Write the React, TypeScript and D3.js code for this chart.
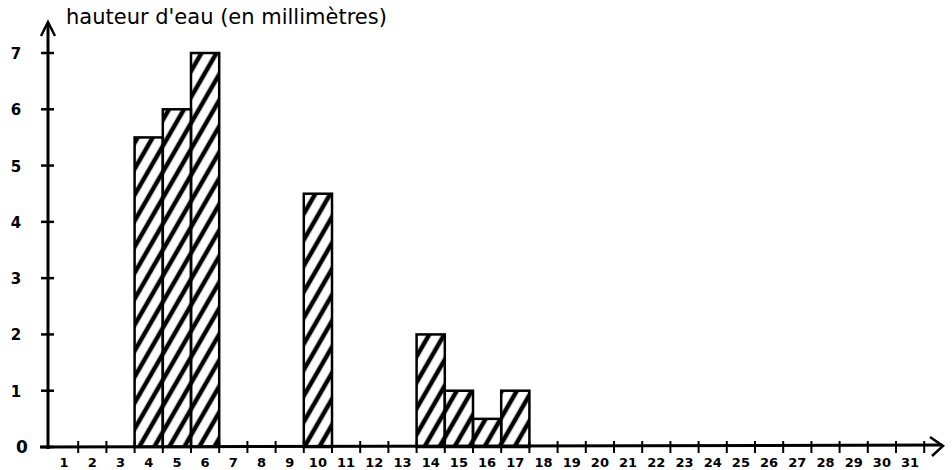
import React from "react"
import * as d3 from "d3"

const days = d3.range(1, 32)
const rainDays = [4, 5, 6, 10, 14, 15, 16, 17]
const rainValues = [5.5, 6, 7, 4.5, 2, 1, 0.5, 1]
const yTicks = [0, 1, 2, 3, 4, 5, 6, 7]
const title = "hauteur d'eau  (en millimètres)"

const App = () => {
  const width = 952
  const height = 470
  const x0 = 48
  const y0 = 447
  const font = "'DejaVu Sans', sans-serif"

  const xScale = d3
    .scaleBand<number>()
    .domain(days)
    .range([x0 + 2, x0 + 2 + 31 * 28.2])
    .padding(0)
  const yScale = d3.scaleLinear().domain([0, 7]).range([y0, 53])

  const bars = rainDays.map((d, i) => ({ day: d, value: rainValues[i] }))

  return (
    <svg width={width} height={height} style={{ position: "absolute", left: 0, top: 0, background: "#fff" }}>
      <defs>
        <pattern id="hatch" patternUnits="userSpaceOnUse" width={13} height={13} patternTransform="rotate(30)">
          <line x1={6} y1={0} x2={6} y2={13} stroke="#000" strokeWidth={4.5} />
        </pattern>
      </defs>
      <text x={66} y={24} fontFamily={font} fontSize={21} fill="#000">
        {title}
      </text>
      {bars.map((b) => (
        <rect
          key={b.day}
          x={xScale(b.day)}
          y={yScale(b.value)}
          width={xScale.bandwidth()}
          height={y0 - yScale(b.value)}
          fill="url(#hatch)"
          stroke="#000"
          strokeWidth={2.5}
        />
      ))}
      {/* y axis */}
      <line x1={x0} y1={y0 + 2} x2={x0} y2={24} stroke="#000" strokeWidth={3} />
      <path d={d3.line()([[x0 - 7, 36], [x0, 22], [x0 + 7, 36]]) || ""} fill="none" stroke="#000" strokeWidth={2.5} />
      {yTicks.map((t) => (
        <g key={t}>
          <line x1={x0 - 7} x2={x0 + 6} y1={yScale(t)} y2={yScale(t)} stroke="#000" strokeWidth={2.5} />
          <text
            x={t === 0 ? 22 : 16}
            y={yScale(t) + 6}
            textAnchor="middle"
            fontFamily={font}
            fontWeight="bold"
            fontSize={t === 0 ? 17 : 15}
            fill="#000"
          >
            {t}
          </text>
        </g>
      ))}
      {/* x axis */}
      <line x1={x0 - 8} y1={y0} x2={942} y2={y0 - 2} stroke="#000" strokeWidth={3} />
      <path d={d3.line()([[930, 437], [943, 446], [932, 456]]) || ""} fill="none" stroke="#000" strokeWidth={2.5} />
      {days.map((d) => (
        <g key={d}>
          <line
            x1={(xScale(d) as number) + xScale.bandwidth()}
            x2={(xScale(d) as number) + xScale.bandwidth()}
            y1={y0 - 6}
            y2={y0 + 6}
            stroke="#000"
            strokeWidth={2}
          />
          <text
            x={(xScale(d) as number) + xScale.bandwidth() / 2}
            y={y0 + 20}
            textAnchor="middle"
            fontFamily={font}
            fontWeight="bold"
            fontSize={13}
            fill="#000"
          >
            {d}
          </text>
        </g>
      ))}
    </svg>
  )
}

export default App
